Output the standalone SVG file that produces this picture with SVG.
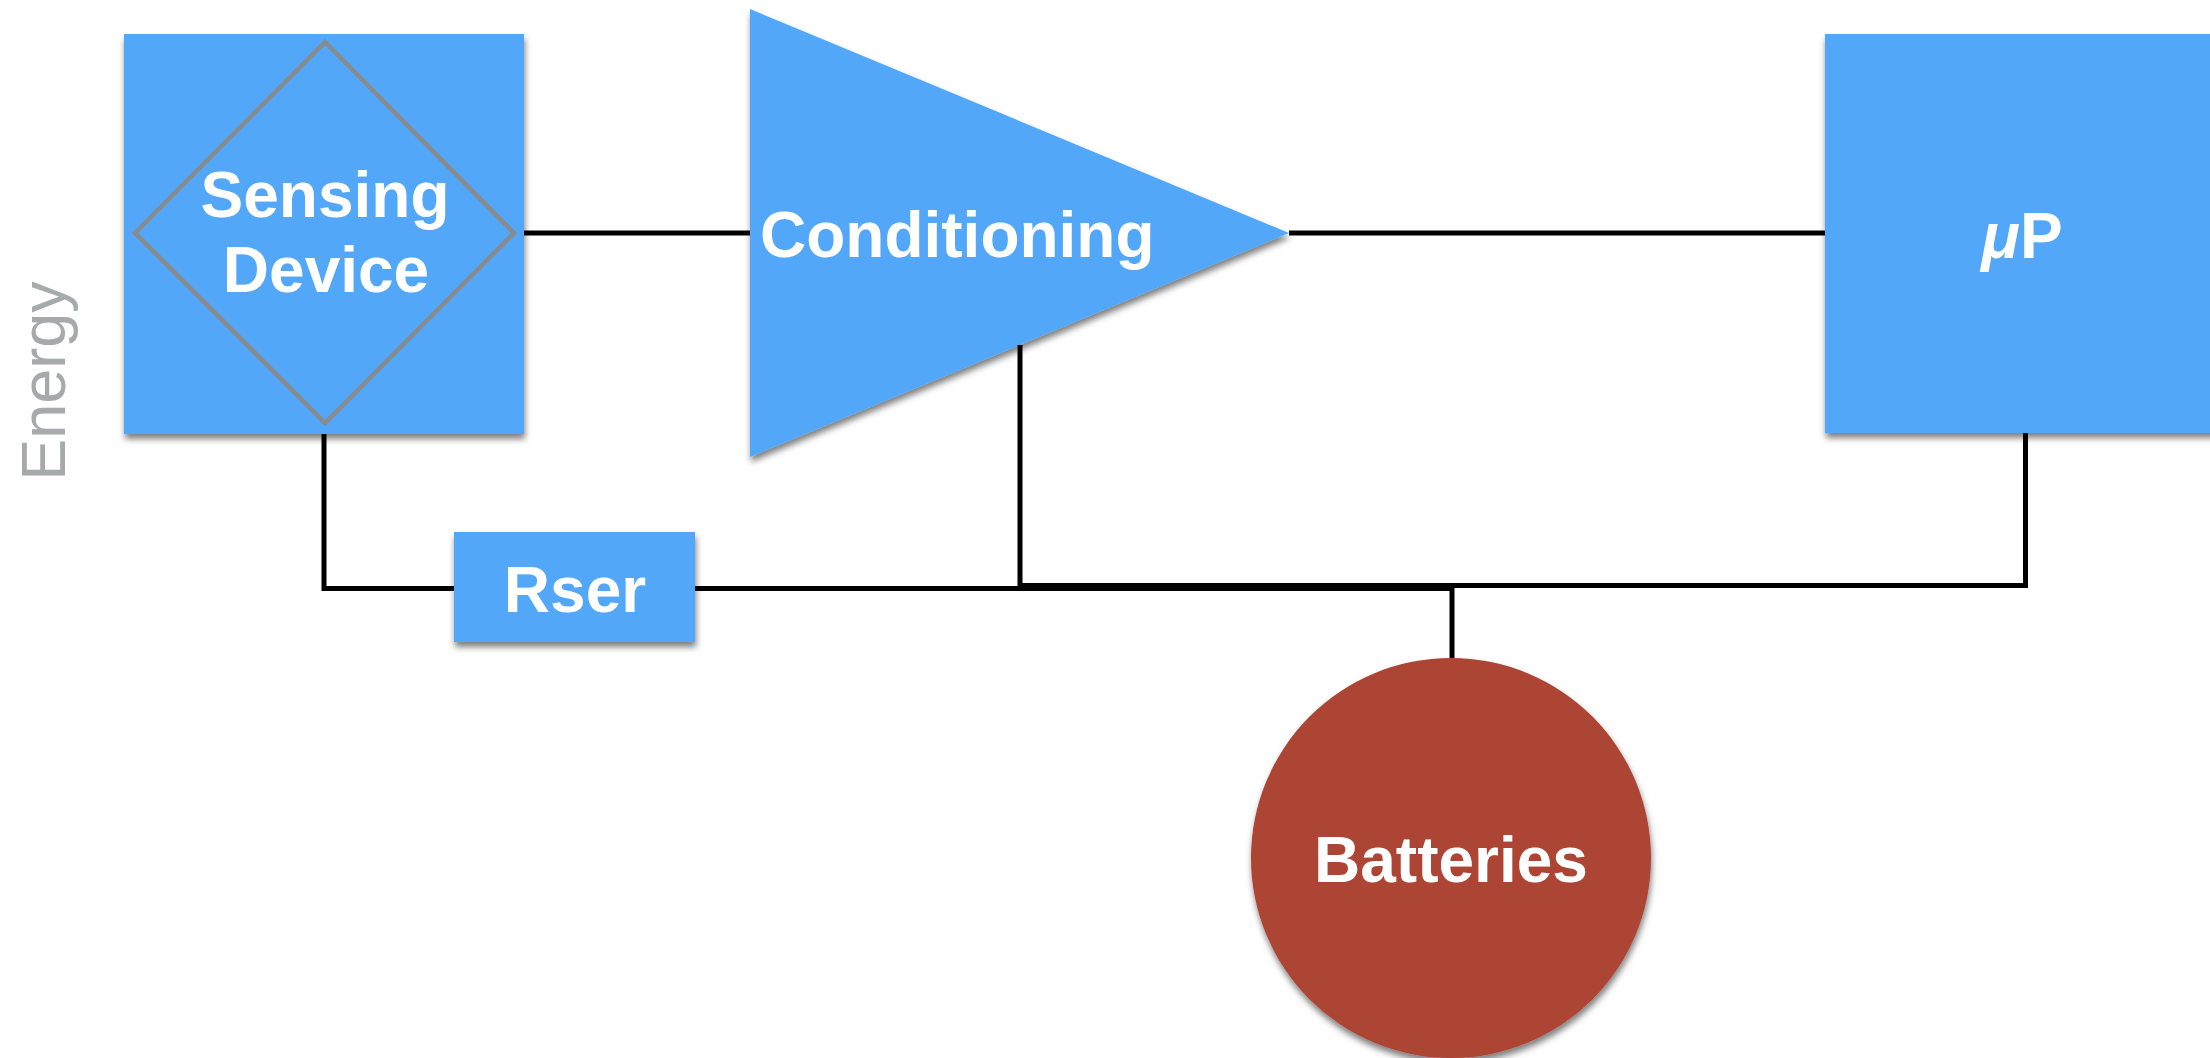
<svg xmlns="http://www.w3.org/2000/svg" width="2210" height="1058" viewBox="0 0 2210 1058">
  <defs>
    <filter id="shadow" x="-10%" y="-10%" width="125%" height="130%">
      <feDropShadow dx="1" dy="5" stdDeviation="3" flood-color="#000" flood-opacity="0.5"/>
    </filter>
  </defs>
  <style>
    .blue { fill: #52A7F9; }
    .lbl { font-family: "Liberation Sans", Arial, Helvetica, sans-serif; font-weight: bold; font-size: 64px; fill: #FFFFFF; text-anchor: middle; }
    .wire { fill: none; stroke: #000000; stroke-width: 5; stroke-linejoin: miter; stroke-linecap: butt; }
    .side { font-family: "Liberation Sans", Arial, Helvetica, sans-serif; font-size: 63px; fill: #A7AAAA; text-anchor: middle; }
  </style>
  <rect x="0" y="0" width="2210" height="1058" fill="#FFFFFF"/>

  <text class="side" transform="translate(65,381) rotate(-90)">Energy</text>

  <g id="sensing-device">
    <rect class="blue" x="124" y="34" width="400" height="400" filter="url(#shadow)"/>
    <polygon points="325,42 514,233 325,423 135,233" fill="none" stroke="#888B8E" stroke-width="4.5"/>
    <text class="lbl" x="325" y="217">Sensing</text>
    <text class="lbl" x="326" y="292">Device</text>
  </g>

  <g id="conditioning">
    <polygon class="blue" points="750,9 1289,233 750,457" filter="url(#shadow)"/>
    <text class="lbl" x="760" y="257" style="text-anchor:start">Conditioning</text>
  </g>

  <g id="microprocessor">
    <rect class="blue" x="1825" y="34" width="400" height="399" filter="url(#shadow)"/>
    <text class="lbl" x="2022" y="258"><tspan font-style="italic">μ</tspan>P</text>
  </g>

  <g id="rser">
    <rect class="blue" x="454" y="532" width="241" height="110" filter="url(#shadow)"/>
    <text class="lbl" x="575" y="612">Rser</text>
  </g>

  <g id="batteries">
    <circle cx="1451" cy="858" r="200" fill="#AD4434" filter="url(#shadow)"/>
    <text class="lbl" x="1451" y="882">Batteries</text>
  </g>

  <g id="connectors">
    <line class="wire" x1="524" y1="233" x2="750" y2="233"/>
    <line class="wire" x1="1289" y1="233" x2="1825" y2="233"/>
    <polyline class="wire" points="324,434 324,588.5 454,588.5"/>
    <polyline class="wire" points="695,588.5 1452,588.5 1452,658"/>
    <polyline class="wire" points="1020,345 1020,585.5 2025.5,585.5 2025.5,433"/>
  </g>
</svg>
